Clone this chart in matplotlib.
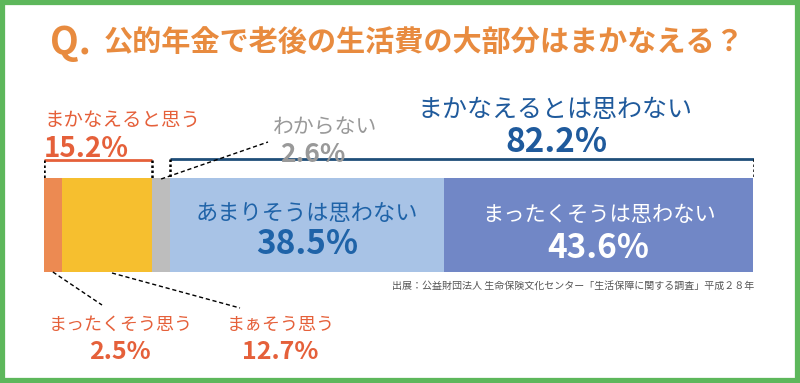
import matplotlib
matplotlib.use("Agg")
import numpy as np
from matplotlib import pyplot as plt
from matplotlib.patches import Rectangle

plt.rcParams['font.family'] = ['Noto Sans CJK JP', 'DejaVu Sans']

# data
categories = ["まったくそう思う", "まぁそう思う", "わからない", "あまりそうは思わない", "まったくそうは思わない"]
values = [2.5, 12.7, 2.6, 38.5, 43.6]
colors = ["#EC8A52", "#F6BF2F", "#BDBDBD", "#A8C3E6", "#7187C6"]
group_yes = "まかなえると思う"
group_yes_val = 15.2
group_no = "まかなえるとは思わない"
group_no_val = 82.2
title = "公的年金で老後の生活費の大部分はまかなえる？"
source = "出展：公益財団法人 生命保険文化センター「生活保障に関する調査」平成２８年"

RED = "#E5603A"
ORANGE = "#E88B3F"
GRAY = "#999999"
BLUE = "#1F5A9C"

fig = plt.figure(figsize=(8, 3.83), dpi=100)
fig.patch.set_facecolor("white")
# axes: x in percent (0..100 -> px 44..754), y in pixel rows
ax = fig.add_axes([44/800, 0, 710/800, 1])
ax.set_xlim(0, 100)
ax.set_ylim(383, 0)
ax.axis("off")

def X(px):
    return (px - 44) / 7.1

cum = np.concatenate([[0], np.cumsum(values)])
ax.barh(225, values, left=cum[:-1], height=94, color=colors, edgecolor="none")

# labels inside bar
c3 = cum[3] + values[3] / 2
c4 = cum[4] + values[4] / 2
ax.text(c3, 213, categories[3], ha="center", va="center", fontsize=16, color="#1F63A8")
ax.text(c3, 245, f"{values[3]}%", ha="center", va="center", fontsize=24, fontweight="bold", color="#1F63A8")
ax.text(c4, 215, categories[4], ha="center", va="center", fontsize=15.3, color="white")
ax.text(c4, 248, f"{values[4]}%", ha="center", va="center", fontsize=24, fontweight="bold", color="white")

# bracket: まかなえると思う
y_r = 160
ax.plot([0, cum[2]], [y_r, y_r], color=RED, lw=2, solid_capstyle="butt")
for xx in [0, cum[2]]:
    ax.plot([xx, xx], [y_r, 178], color="black", lw=1.8, linestyle=(0, (1, 1)))
ax.text(0, 120, group_yes, ha="left", va="center", fontsize=14, color=RED)
ax.text(0, 149, f"{group_yes_val}%", ha="left", va="center", fontsize=20, fontweight="bold", color=RED)

# bracket: まかなえるとは思わない
y_b = 159
ax.plot([cum[3], 100], [y_b, y_b], color="#1F4E79", lw=2, solid_capstyle="butt")
for xx in [cum[3], 100]:
    ax.plot([xx, xx], [y_b, 178], color="black", lw=1.8, linestyle=(0, (1, 1)))
ax.text(X(555), 110, group_no, ha="center", va="center", fontsize=18, color=BLUE)
ax.text(X(556), 143, f"{group_no_val}%", ha="center", va="center", fontsize=24, fontweight="bold", color=BLUE)

# わからない
ax.text(X(325), 128, categories[2], ha="center", va="center", fontsize=15, color=GRAY)
ax.text(X(313), 155, f"{values[2]}%", ha="center", va="center", fontsize=19, fontweight="bold", color=GRAY)
ax.plot([cum[2] + values[2] / 2, X(268)], [179, 142], color="black", lw=1, linestyle=(0, (3, 2)))

# bottom labels
ax.plot([cum[0] + values[0] / 2, X(102)], [272, 305], color="black", lw=1, linestyle=(0, (3, 2)))
ax.plot([X(112), X(240)], [273, 308], color="black", lw=1, linestyle=(0, (3, 2)))
ax.text(X(121), 325, categories[0], ha="center", va="center", fontsize=13, color=RED)
ax.text(X(120), 352, f"{values[0]}%", ha="center", va="center", fontsize=18, fontweight="bold", color=RED)
ax.text(X(281), 325, categories[1], ha="center", va="center", fontsize=13, color=RED)
ax.text(X(280), 352, f"{values[1]}%", ha="center", va="center", fontsize=18, fontweight="bold", color=RED)

# source
ax.text(100, 286, source, ha="right", va="center", fontsize=7.2, color="#555555")

# title
fig.text(50/800, 1 - 42/383, "Q.", ha="left", va="center", fontsize=27, fontweight="bold", color=ORANGE)
fig.text(104/800, 1 - 42/383, title, ha="left", va="center", fontsize=21, fontweight="bold", color=ORANGE)

# green frame
fig.patches.append(Rectangle((0.003, 0.0065), 0.994, 0.987, transform=fig.transFigure,
                             fill=False, edgecolor="#5DB75B", lw=4.5))

fig.savefig("out.png", dpi=100, facecolor="white")
